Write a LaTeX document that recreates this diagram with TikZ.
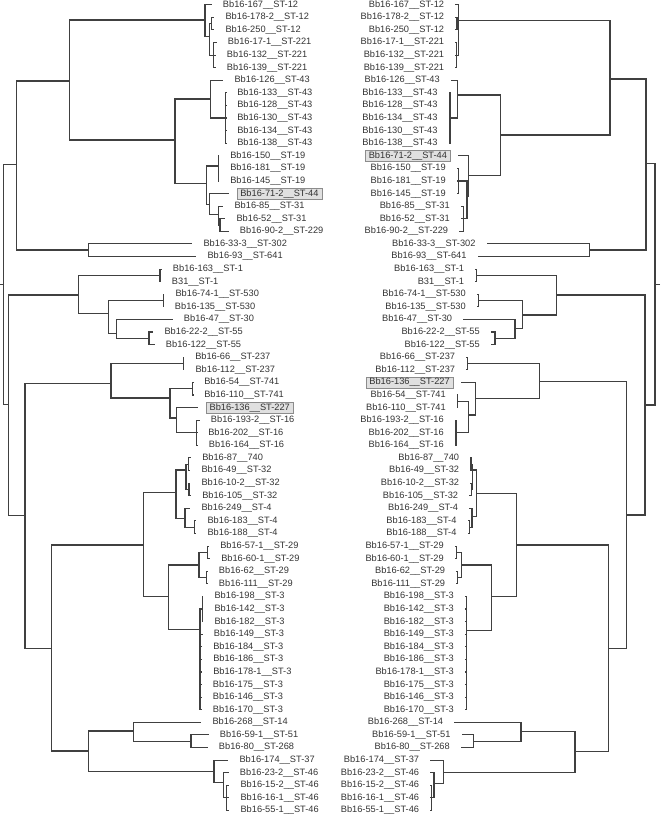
\documentclass[tikz,border=0pt]{standalone}
\usepackage{fontspec}
\setmainfont{Liberation Sans}
\usetikzlibrary{positioning}
\tikzset{
  branch/.style={draw=black!75, line width=1pt},
  lab/.style={font=\fontsize{7.9}{9}\selectfont, text=black!80, inner xsep=3pt, inner ysep=1pt},
  boxed/.style={lab, fill=black!12, draw=black!45, line width=0.5pt},
}
\begin{document}
\begin{tikzpicture}[x=0.03cm, y=-0.03cm]
\useasboundingbox (0,0) rectangle (660,817);

% left tree: junctions
\coordinate (j0) at (0,284.4);
\coordinate (jr) at (3.3,284.4);
\coordinate (ja) at (16.7,164.3);
\coordinate (jb) at (69.3,81);
\coordinate (jb1) at (205,20);
\coordinate (jb1a) at (209.3,36.7);
\coordinate (jb1p) at (211.7,23.6);
\coordinate (jb1t) at (213.3,55.1);
\coordinate (jb2) at (175,140);
\coordinate (j43) at (210.7,99);
\coordinate (j43b) at (225.7,118);
\coordinate (j19) at (206.7,183.3);
\coordinate (j19t) at (218.3,166);
\coordinate (j44) at (209.3,204.3);
\coordinate (j31) at (218.3,214.3);
\coordinate (j31b) at (220,225);
\coordinate (jc) at (88.3,250);
\coordinate (jd) at (8.3,404.5);
\coordinate (je) at (78.3,295);
\coordinate (jst1) at (160,275.4);
\coordinate (je2) at (108.3,313.3);
\coordinate (j530) at (163.3,300.6);
\coordinate (je3) at (116.7,333.3);
\coordinate (j55) at (149,338.3);
\coordinate (jf) at (25,515.8);
\coordinate (jf1) at (111,383.5);
\coordinate (j237) at (183.3,363.5);
\coordinate (jf1b) at (170,398);
\coordinate (j741) at (192.7,388.7);
\coordinate (jf1c) at (176.7,418);
\coordinate (j16) at (196.7,432.8);
\coordinate (jf2) at (51.7,648.3);
\coordinate (jg) at (143.3,545);
\coordinate (jg1) at (176,492.7);
\coordinate (j32) at (186,470);
\coordinate (j32a) at (188.3,464.2);
\coordinate (j32b) at (189,489.4);
\coordinate (j4) at (185,518.3);
\coordinate (j4p) at (194.3,527.2);
\coordinate (jg2) at (168.3,596.7);
\coordinate (j29) at (199,565);
\coordinate (j29a) at (207.7,552.4);
\coordinate (j29b) at (206.7,577.5);
\coordinate (j3) at (200,629.3);
\coordinate (j3a) at (202.3,609);
\coordinate (jh) at (88.3,751);
\coordinate (jh1) at (133.3,731);
\coordinate (j51) at (191,741.2);
\coordinate (jh2) at (214,771.7);
\coordinate (j46) at (223.3,782.3);
\coordinate (j46b) at (226.7,797.9);

% left tree: leaves
\coordinate (le1) at (211.7,4.7); \node[lab, right=6.4pt of le1] (l1) {Bb16-167\_\_ST-12};
\coordinate (le2) at (214.3,17.3); \node[lab, right=6.4pt of le2] (l2) {Bb16-178-2\_\_ST-12};
\coordinate (le3) at (214.3,29.9); \node[lab, right=6.4pt of le3] (l3) {Bb16-250\_\_ST-12};
\coordinate (le4) at (216.7,42.5); \node[lab, right=6.4pt of le4] (l4) {Bb16-17-1\_\_ST-221};
\coordinate (le5) at (215.7,55.1); \node[lab, right=6.4pt of le5] (l5) {Bb16-132\_\_ST-221};
\coordinate (le6) at (215.7,67.7); \node[lab, right=6.4pt of le6] (l6) {Bb16-139\_\_ST-221};
\coordinate (le7) at (223.3,80.2); \node[lab, right=6.4pt of le7] (l7) {Bb16-126\_\_ST-43};
\coordinate (le8) at (226,92.8); \node[lab, right=6.4pt of le8] (l8) {Bb16-133\_\_ST-43};
\coordinate (le9) at (226,105.4); \node[lab, right=6.4pt of le9] (l9) {Bb16-128\_\_ST-43};
\coordinate (le10) at (226,118); \node[lab, right=6.4pt of le10] (l10) {Bb16-130\_\_ST-43};
\coordinate (le11) at (226,130.6); \node[lab, right=6.4pt of le11] (l11) {Bb16-134\_\_ST-43};
\coordinate (le12) at (226,143.2); \node[lab, right=6.4pt of le12] (l12) {Bb16-138\_\_ST-43};
\coordinate (le13) at (219,155.8); \node[lab, right=6.4pt of le13] (l13) {Bb16-150\_\_ST-19};
\coordinate (le14) at (219,168.4); \node[lab, right=6.4pt of le14] (l14) {Bb16-181\_\_ST-19};
\coordinate (le15) at (219,181); \node[lab, right=6.4pt of le15] (l15) {Bb16-145\_\_ST-19};
\coordinate (le16) at (229,193.6); \node[boxed, right=6.4pt of le16] (l16) {Bb16-71-2\_\_ST-44};
\coordinate (le17) at (223.3,206.1); \node[lab, right=6.4pt of le17] (l17) {Bb16-85\_\_ST-31};
\coordinate (le18) at (225.3,218.7); \node[lab, right=6.4pt of le18] (l18) {Bb16-52\_\_ST-31};
\coordinate (le19) at (228.7,231.3); \node[lab, right=6.4pt of le19] (l19) {Bb16-90-2\_\_ST-229};
\coordinate (le20) at (192.3,243.9); \node[lab, right=6.4pt of le20] (l20) {Bb16-33-3\_\_ST-302};
\coordinate (le21) at (196.3,256.5); \node[lab, right=6.4pt of le21] (l21) {Bb16-93\_\_ST-641};
\coordinate (le22) at (161.7,269.1); \node[lab, right=6.4pt of le22] (l22) {Bb16-163\_\_ST-1};
\coordinate (le23) at (160.7,281.7); \node[lab, right=6.4pt of le23] (l23) {B31\_\_ST-1};
\coordinate (le24) at (164.3,294.3); \node[lab, right=6.4pt of le24] (l24) {Bb16-74-1\_\_ST-530};
\coordinate (le25) at (163.7,306.9); \node[lab, right=6.4pt of le25] (l25) {Bb16-135\_\_ST-530};
\coordinate (le26) at (172.7,319.5); \node[lab, right=6.4pt of le26] (l26) {Bb16-47\_\_ST-30};
\coordinate (le27) at (153.3,332); \node[lab, right=6.4pt of le27] (l27) {Bb16-22-2\_\_ST-55};
\coordinate (le28) at (154.7,344.6); \node[lab, right=6.4pt of le28] (l28) {Bb16-122\_\_ST-55};
\coordinate (le29) at (184,357.2); \node[lab, right=6.4pt of le29] (l29) {Bb16-66\_\_ST-237};
\coordinate (le30) at (184.3,369.8); \node[lab, right=6.4pt of le30] (l30) {Bb16-112\_\_ST-237};
\coordinate (le31) at (193,382.4); \node[lab, right=6.4pt of le31] (l31) {Bb16-54\_\_ST-741};
\coordinate (le32) at (193,395); \node[lab, right=6.4pt of le32] (l32) {Bb16-110\_\_ST-741};
\coordinate (le33) at (198.3,407.6); \node[boxed, right=6.4pt of le33] (l33) {Bb16-136\_\_ST-227};
\coordinate (le34) at (199.7,420.2); \node[lab, right=6.4pt of le34] (l34) {Bb16-193-2\_\_ST-16};
\coordinate (le35) at (197,432.8); \node[lab, right=6.4pt of le35] (l35) {Bb16-202\_\_ST-16};
\coordinate (le36) at (197.7,445.4); \node[lab, right=6.4pt of le36] (l36) {Bb16-164\_\_ST-16};
\coordinate (le37) at (191,457.9); \node[lab, right=6.4pt of le37] (l37) {Bb16-87\_\_740};
\coordinate (le38) at (190.3,470.5); \node[lab, right=6.4pt of le38] (l38) {Bb16-49\_\_ST-32};
\coordinate (le39) at (190.3,483.1); \node[lab, right=6.4pt of le39] (l39) {Bb16-10-2\_\_ST-32};
\coordinate (le40) at (191,495.7); \node[lab, right=6.4pt of le40] (l40) {Bb16-105\_\_ST-32};
\coordinate (le41) at (190.3,508.3); \node[lab, right=6.4pt of le41] (l41) {Bb16-249\_\_ST-4};
\coordinate (le42) at (196.3,520.9); \node[lab, right=6.4pt of le42] (l42) {Bb16-183\_\_ST-4};
\coordinate (le43) at (196.3,533.5); \node[lab, right=6.4pt of le43] (l43) {Bb16-188\_\_ST-4};
\coordinate (le44) at (209,546.1); \node[lab, right=6.4pt of le44] (l44) {Bb16-57-1\_\_ST-29};
\coordinate (le45) at (210,558.7); \node[lab, right=6.4pt of le45] (l45) {Bb16-60-1\_\_ST-29};
\coordinate (le46) at (207.7,571.3); \node[lab, right=6.4pt of le46] (l46) {Bb16-62\_\_ST-29};
\coordinate (le47) at (207.7,583.8); \node[lab, right=6.4pt of le47] (l47) {Bb16-111\_\_ST-29};
\coordinate (le48) at (203.3,596.4); \node[lab, right=6.4pt of le48] (l48) {Bb16-198\_\_ST-3};
\coordinate (le49) at (203.3,609); \node[lab, right=6.4pt of le49] (l49) {Bb16-142\_\_ST-3};
\coordinate (le50) at (203.3,621.6); \node[lab, right=6.4pt of le50] (l50) {Bb16-182\_\_ST-3};
\coordinate (le51) at (202.7,634.2); \node[lab, right=6.4pt of le51] (l51) {Bb16-149\_\_ST-3};
\coordinate (le52) at (202,646.8); \node[lab, right=6.4pt of le52] (l52) {Bb16-184\_\_ST-3};
\coordinate (le53) at (202,659.4); \node[lab, right=6.4pt of le53] (l53) {Bb16-186\_\_ST-3};
\coordinate (le54) at (202,672); \node[lab, right=6.4pt of le54] (l54) {Bb16-178-1\_\_ST-3};
\coordinate (le55) at (201.7,684.6); \node[lab, right=6.4pt of le55] (l55) {Bb16-175\_\_ST-3};
\coordinate (le56) at (201.7,697.2); \node[lab, right=6.4pt of le56] (l56) {Bb16-146\_\_ST-3};
\coordinate (le57) at (201.7,709.7); \node[lab, right=6.4pt of le57] (l57) {Bb16-170\_\_ST-3};
\coordinate (le58) at (201.3,722.3); \node[lab, right=6.4pt of le58] (l58) {Bb16-268\_\_ST-14};
\coordinate (le59) at (208.7,734.9); \node[lab, right=6.4pt of le59] (l59) {Bb16-59-1\_\_ST-51};
\coordinate (le60) at (207.7,747.5); \node[lab, right=6.4pt of le60] (l60) {Bb16-80\_\_ST-268};
\coordinate (le61) at (228.3,760.1); \node[lab, right=6.4pt of le61] (l61) {Bb16-174\_\_ST-37};
\coordinate (le62) at (228.7,772.7); \node[lab, right=6.4pt of le62] (l62) {Bb16-23-2\_\_ST-46};
\coordinate (le63) at (229.3,785.3); \node[lab, right=6.4pt of le63] (l63) {Bb16-15-2\_\_ST-46};
\coordinate (le64) at (229.3,797.9); \node[lab, right=6.4pt of le64] (l64) {Bb16-16-1\_\_ST-46};
\coordinate (le65) at (229.3,810.5); \node[lab, right=6.4pt of le65] (l65) {Bb16-55-1\_\_ST-46};

% left tree: branches
\draw[branch] (j0) -- (jr);
\draw[branch] (jr) |- (ja) (jr) |- (jd);
\draw[branch] (ja) |- (jb) (ja) |- (jc);
\draw[branch] (jb) |- (jb1) (jb) |- (jb2);
\draw[branch] (jb1) |- (le1) (jb1) |- (jb1a);
\draw[branch] (jb1a) |- (jb1p) (jb1a) |- (jb1t);
\draw[branch] (jb1p) |- (le2) (jb1p) |- (le3);
\draw[branch] (jb1t) |- (le4) (jb1t) |- (le5) (jb1t) |- (le6);
\draw[branch] (jb2) |- (j43) (jb2) |- (j19);
\draw[branch] (j43) |- (le7) (j43) |- (j43b);
\draw[branch] (j43b) |- (le8) (j43b) |- (le9) (j43b) |- (le10) (j43b) |- (le11) (j43b) |- (le12);
\draw[branch] (j19) |- (j19t) (j19) |- (j44);
\draw[branch] (j19t) |- (le13) (j19t) |- (le14) (j19t) |- (le15);
\draw[branch] (j44) |- (le16) (j44) |- (j31);
\draw[branch] (j31) |- (le17) (j31) |- (j31b);
\draw[branch] (j31b) |- (le18) (j31b) |- (le19);
\draw[branch] (jc) |- (le20) (jc) |- (le21);
\draw[branch] (jd) |- (je) (jd) |- (jf);
\draw[branch] (je) |- (jst1) (je) |- (je2);
\draw[branch] (jst1) |- (le22) (jst1) |- (le23);
\draw[branch] (je2) |- (j530) (je2) |- (je3);
\draw[branch] (j530) |- (le24) (j530) |- (le25);
\draw[branch] (je3) |- (le26) (je3) |- (j55);
\draw[branch] (j55) |- (le27) (j55) |- (le28);
\draw[branch] (jf) |- (jf1) (jf) |- (jf2);
\draw[branch] (jf1) |- (j237) (jf1) |- (jf1b);
\draw[branch] (j237) |- (le29) (j237) |- (le30);
\draw[branch] (jf1b) |- (j741) (jf1b) |- (jf1c);
\draw[branch] (j741) |- (le31) (j741) |- (le32);
\draw[branch] (jf1c) |- (le33) (jf1c) |- (j16);
\draw[branch] (j16) |- (le34) (j16) |- (le35) (j16) |- (le36);
\draw[branch] (jf2) |- (jg) (jf2) |- (jh);
\draw[branch] (jg) |- (jg1) (jg) |- (jg2);
\draw[branch] (jg1) |- (j32) (jg1) |- (j4);
\draw[branch] (j32) |- (j32a) (j32) |- (j32b);
\draw[branch] (j32a) |- (le37) (j32a) |- (le38);
\draw[branch] (j32b) |- (le39) (j32b) |- (le40);
\draw[branch] (j4) |- (le41) (j4) |- (j4p);
\draw[branch] (j4p) |- (le42) (j4p) |- (le43);
\draw[branch] (jg2) |- (j29) (jg2) |- (j3);
\draw[branch] (j29) |- (j29a) (j29) |- (j29b);
\draw[branch] (j29a) |- (le44) (j29a) |- (le45);
\draw[branch] (j29b) |- (le46) (j29b) |- (le47);
\draw[branch] (j3) |- (j3a) (j3) |- (le51) (j3) |- (le52) (j3) |- (le53) (j3) |- (le54) (j3) |- (le55) (j3) |- (le56) (j3) |- (le57);
\draw[branch] (j3a) |- (le48) (j3a) |- (le49) (j3a) |- (le50);
\draw[branch] (jh) |- (jh1) (jh) |- (jh2);
\draw[branch] (jh1) |- (le58) (jh1) |- (j51);
\draw[branch] (j51) |- (le59) (j51) |- (le60);
\draw[branch] (jh2) |- (le61) (jh2) |- (j46);
\draw[branch] (j46) |- (le62) (j46) |- (j46b);
\draw[branch] (j46b) |- (le63) (j46b) |- (le64) (j46b) |- (le65);

% right tree: junctions
\coordinate (k0) at (660,284.4);
\coordinate (kr) at (655,284.4);
\coordinate (ka) at (646,163.3);
\coordinate (kb) at (610,79);
\coordinate (kb1) at (458.3,20.7);
\coordinate (kb1p) at (457,23.6);
\coordinate (kb1t) at (456.3,55.1);
\coordinate (kb2) at (500.7,135);
\coordinate (k43) at (457.3,95);
\coordinate (k43b) at (450,118);
\coordinate (kx) at (468.3,175.7);
\coordinate (ky) at (467,196.7);
\coordinate (k19t) at (458.3,181);
\coordinate (k31) at (463.3,218.7);
\coordinate (kc) at (589.3,250);
\coordinate (kd) at (645,405);
\coordinate (ke) at (556.7,295);
\coordinate (kst1) at (476.7,275.4);
\coordinate (ke2) at (522.7,315);
\coordinate (k530) at (478.3,300.6);
\coordinate (ke3) at (515,328.3);
\coordinate (k55) at (495,338.3);
\coordinate (kf) at (626.7,515);
\coordinate (kf1) at (539.3,381.7);
\coordinate (k237) at (467.3,363.5);
\coordinate (kf1b) at (475.7,398.3);
\coordinate (kf1c) at (468.3,415);
\coordinate (k741) at (457.7,401.3);
\coordinate (k16) at (456,432.8);
\coordinate (kf2) at (608.3,648.3);
\coordinate (kg) at (516.7,545);
\coordinate (kg1) at (476.7,493.3);
\coordinate (k32) at (472.7,470);
\coordinate (k32a) at (471,464.2);
\coordinate (k32b) at (471.3,489.4);
\coordinate (k4) at (472,516.7);
\coordinate (k4p) at (469.7,527.2);
\coordinate (kg2) at (491.7,596.7);
\coordinate (k29) at (461.7,565);
\coordinate (k29a) at (456.7,552.4);
\coordinate (k29b) at (457.7,577.5);
\coordinate (k3) at (466.7,630.7);
\coordinate (kh) at (575,751.7);
\coordinate (kh1) at (521,731.7);
\coordinate (k51) at (473.3,741.2);
\coordinate (kh2) at (443.3,772.3);
\coordinate (k46) at (434,783.3);
\coordinate (k46b) at (431.7,797.9);

% right tree: leaves
\coordinate (re1) at (455.3,4.7); \node[lab, left=6.4pt of re1] (r1) {Bb16-167\_\_ST-12};
\coordinate (re2) at (455.3,17.3); \node[lab, left=6.4pt of re2] (r2) {Bb16-178-2\_\_ST-12};
\coordinate (re3) at (455.3,29.9); \node[lab, left=6.4pt of re3] (r3) {Bb16-250\_\_ST-12};
\coordinate (re4) at (455.3,42.5); \node[lab, left=6.4pt of re4] (r4) {Bb16-17-1\_\_ST-221};
\coordinate (re5) at (455.3,55.1); \node[lab, left=6.4pt of re5] (r5) {Bb16-132\_\_ST-221};
\coordinate (re6) at (455.3,67.7); \node[lab, left=6.4pt of re6] (r6) {Bb16-139\_\_ST-221};
\coordinate (re7) at (451,80.2); \node[lab, left=6.4pt of re7] (r7) {Bb16-126\_\_ST-43};
\coordinate (re8) at (448.7,92.8); \node[lab, left=6.4pt of re8] (r8) {Bb16-133\_\_ST-43};
\coordinate (re9) at (448.7,105.4); \node[lab, left=6.4pt of re9] (r9) {Bb16-128\_\_ST-43};
\coordinate (re10) at (448.7,118); \node[lab, left=6.4pt of re10] (r10) {Bb16-134\_\_ST-43};
\coordinate (re11) at (448.7,130.6); \node[lab, left=6.4pt of re11] (r11) {Bb16-130\_\_ST-43};
\coordinate (re12) at (448.7,143.2); \node[lab, left=6.4pt of re12] (r12) {Bb16-138\_\_ST-43};
\coordinate (re13) at (458.3,155.8); \node[boxed, left=6.4pt of re13] (r13) {Bb16-71-2\_\_ST-44};
\coordinate (re14) at (457,168.4); \node[lab, left=6.4pt of re14] (r14) {Bb16-150\_\_ST-19};
\coordinate (re15) at (457,181); \node[lab, left=6.4pt of re15] (r15) {Bb16-181\_\_ST-19};
\coordinate (re16) at (457,193.6); \node[lab, left=6.4pt of re16] (r16) {Bb16-145\_\_ST-19};
\coordinate (re17) at (461,206.1); \node[lab, left=6.4pt of re17] (r17) {Bb16-85\_\_ST-31};
\coordinate (re18) at (461,218.7); \node[lab, left=6.4pt of re18] (r18) {Bb16-52\_\_ST-31};
\coordinate (re19) at (459.3,231.3); \node[lab, left=6.4pt of re19] (r19) {Bb16-90-2\_\_ST-229};
\coordinate (re20) at (486.7,243.9); \node[lab, left=6.4pt of re20] (r20) {Bb16-33-3\_\_ST-302};
\coordinate (re21) at (477.7,256.5); \node[lab, left=6.4pt of re21] (r21) {Bb16-93\_\_ST-641};
\coordinate (re22) at (475.3,269.1); \node[lab, left=6.4pt of re22] (r22) {Bb16-163\_\_ST-1};
\coordinate (re23) at (475.3,281.7); \node[lab, left=6.4pt of re23] (r23) {B31\_\_ST-1};
\coordinate (re24) at (477,294.3); \node[lab, left=6.4pt of re24] (r24) {Bb16-74-1\_\_ST-530};
\coordinate (re25) at (477,306.9); \node[lab, left=6.4pt of re25] (r25) {Bb16-135\_\_ST-530};
\coordinate (re26) at (463.3,319.5); \node[lab, left=6.4pt of re26] (r26) {Bb16-47\_\_ST-30};
\coordinate (re27) at (491,332); \node[lab, left=6.4pt of re27] (r27) {Bb16-22-2\_\_ST-55};
\coordinate (re28) at (491,344.6); \node[lab, left=6.4pt of re28] (r28) {Bb16-122\_\_ST-55};
\coordinate (re29) at (466.3,357.2); \node[lab, left=6.4pt of re29] (r29) {Bb16-66\_\_ST-237};
\coordinate (re30) at (466.3,369.8); \node[lab, left=6.4pt of re30] (r30) {Bb16-112\_\_ST-237};
\coordinate (re31) at (461,382.4); \node[boxed, left=6.4pt of re31] (r31) {Bb16-136\_\_ST-227};
\coordinate (re32) at (457,395); \node[lab, left=6.4pt of re32] (r32) {Bb16-54\_\_ST-741};
\coordinate (re33) at (457,407.6); \node[lab, left=6.4pt of re33] (r33) {Bb16-110\_\_ST-741};
\coordinate (re34) at (455,420.2); \node[lab, left=6.4pt of re34] (r34) {Bb16-193-2\_\_ST-16};
\coordinate (re35) at (455,432.8); \node[lab, left=6.4pt of re35] (r35) {Bb16-202\_\_ST-16};
\coordinate (re36) at (455,445.4); \node[lab, left=6.4pt of re36] (r36) {Bb16-164\_\_ST-16};
\coordinate (re37) at (470.3,457.9); \node[lab, left=6.4pt of re37] (r37) {Bb16-87\_\_740};
\coordinate (re38) at (470.3,470.5); \node[lab, left=6.4pt of re38] (r38) {Bb16-49\_\_ST-32};
\coordinate (re39) at (470.3,483.1); \node[lab, left=6.4pt of re39] (r39) {Bb16-10-2\_\_ST-32};
\coordinate (re40) at (469.3,495.7); \node[lab, left=6.4pt of re40] (r40) {Bb16-105\_\_ST-32};
\coordinate (re41) at (469.3,508.3); \node[lab, left=6.4pt of re41] (r41) {Bb16-249\_\_ST-4};
\coordinate (re42) at (467.7,520.9); \node[lab, left=6.4pt of re42] (r42) {Bb16-183\_\_ST-4};
\coordinate (re43) at (467.7,533.5); \node[lab, left=6.4pt of re43] (r43) {Bb16-188\_\_ST-4};
\coordinate (re44) at (455,546.1); \node[lab, left=6.4pt of re44] (r44) {Bb16-57-1\_\_ST-29};
\coordinate (re45) at (455,558.7); \node[lab, left=6.4pt of re45] (r45) {Bb16-60-1\_\_ST-29};
\coordinate (re46) at (456.3,571.3); \node[lab, left=6.4pt of re46] (r46) {Bb16-62\_\_ST-29};
\coordinate (re47) at (456.3,583.8); \node[lab, left=6.4pt of re47] (r47) {Bb16-111\_\_ST-29};
\coordinate (re48) at (465,596.4); \node[lab, left=6.4pt of re48] (r48) {Bb16-198\_\_ST-3};
\coordinate (re49) at (465,609); \node[lab, left=6.4pt of re49] (r49) {Bb16-142\_\_ST-3};
\coordinate (re50) at (465,621.6); \node[lab, left=6.4pt of re50] (r50) {Bb16-182\_\_ST-3};
\coordinate (re51) at (465,634.2); \node[lab, left=6.4pt of re51] (r51) {Bb16-149\_\_ST-3};
\coordinate (re52) at (465,646.8); \node[lab, left=6.4pt of re52] (r52) {Bb16-184\_\_ST-3};
\coordinate (re53) at (465,659.4); \node[lab, left=6.4pt of re53] (r53) {Bb16-186\_\_ST-3};
\coordinate (re54) at (465,672); \node[lab, left=6.4pt of re54] (r54) {Bb16-178-1\_\_ST-3};
\coordinate (re55) at (465,684.6); \node[lab, left=6.4pt of re55] (r55) {Bb16-175\_\_ST-3};
\coordinate (re56) at (465,697.2); \node[lab, left=6.4pt of re56] (r56) {Bb16-146\_\_ST-3};
\coordinate (re57) at (465,709.7); \node[lab, left=6.4pt of re57] (r57) {Bb16-170\_\_ST-3};
\coordinate (re58) at (454.3,722.3); \node[lab, left=6.4pt of re58] (r58) {Bb16-268\_\_ST-14};
\coordinate (re59) at (461.7,734.9); \node[lab, left=6.4pt of re59] (r59) {Bb16-59-1\_\_ST-51};
\coordinate (re60) at (461,747.5); \node[lab, left=6.4pt of re60] (r60) {Bb16-80\_\_ST-268};
\coordinate (re61) at (430.3,760.1); \node[lab, left=6.4pt of re61] (r61) {Bb16-174\_\_ST-37};
\coordinate (re62) at (430.3,772.7); \node[lab, left=6.4pt of re62] (r62) {Bb16-23-2\_\_ST-46};
\coordinate (re63) at (430.3,785.3); \node[lab, left=6.4pt of re63] (r63) {Bb16-15-2\_\_ST-46};
\coordinate (re64) at (430.3,797.9); \node[lab, left=6.4pt of re64] (r64) {Bb16-16-1\_\_ST-46};
\coordinate (re65) at (430.3,810.5); \node[lab, left=6.4pt of re65] (r65) {Bb16-55-1\_\_ST-46};

% right tree: branches
\draw[branch] (k0) -- (kr);
\draw[branch] (kr) |- (ka) (kr) |- (kd);
\draw[branch] (ka) |- (kb) (ka) |- (kc);
\draw[branch] (kb) |- (kb1) (kb) |- (kb2);
\draw[branch] (kb1) |- (re1) (kb1) |- (kb1p) (kb1) |- (kb1t);
\draw[branch] (kb1p) |- (re2) (kb1p) |- (re3);
\draw[branch] (kb1t) |- (re4) (kb1t) |- (re5) (kb1t) |- (re6);
\draw[branch] (kb2) |- (k43) (kb2) |- (kx);
\draw[branch] (k43) |- (re7) (k43) |- (k43b);
\draw[branch] (k43b) |- (re8) (k43b) |- (re9) (k43b) |- (re10) (k43b) |- (re11) (k43b) |- (re12);
\draw[branch] (kx) |- (re13) (kx) |- (ky);
\draw[branch] (ky) |- (k19t) (ky) |- (k31);
\draw[branch] (k19t) |- (re14) (k19t) |- (re15) (k19t) |- (re16);
\draw[branch] (k31) |- (re17) (k31) |- (re18) (k31) |- (re19);
\draw[branch] (kc) |- (re20) (kc) |- (re21);
\draw[branch] (kd) |- (ke) (kd) |- (kf);
\draw[branch] (ke) |- (kst1) (ke) |- (ke2);
\draw[branch] (kst1) |- (re22) (kst1) |- (re23);
\draw[branch] (ke2) |- (k530) (ke2) |- (ke3);
\draw[branch] (k530) |- (re24) (k530) |- (re25);
\draw[branch] (ke3) |- (re26) (ke3) |- (k55);
\draw[branch] (k55) |- (re27) (k55) |- (re28);
\draw[branch] (kf) |- (kf1) (kf) |- (kf2);
\draw[branch] (kf1) |- (k237) (kf1) |- (kf1b);
\draw[branch] (k237) |- (re29) (k237) |- (re30);
\draw[branch] (kf1b) |- (re31) (kf1b) |- (kf1c);
\draw[branch] (kf1c) |- (k741) (kf1c) |- (k16);
\draw[branch] (k741) |- (re32) (k741) |- (re33);
\draw[branch] (k16) |- (re34) (k16) |- (re35) (k16) |- (re36);
\draw[branch] (kf2) |- (kg) (kf2) |- (kh);
\draw[branch] (kg) |- (kg1) (kg) |- (kg2);
\draw[branch] (kg1) |- (k32) (kg1) |- (k4);
\draw[branch] (k32) |- (k32a) (k32) |- (k32b);
\draw[branch] (k32a) |- (re37) (k32a) |- (re38);
\draw[branch] (k32b) |- (re39) (k32b) |- (re40);
\draw[branch] (k4) |- (re41) (k4) |- (k4p);
\draw[branch] (k4p) |- (re42) (k4p) |- (re43);
\draw[branch] (kg2) |- (k29) (kg2) |- (k3);
\draw[branch] (k29) |- (k29a) (k29) |- (k29b);
\draw[branch] (k29a) |- (re44) (k29a) |- (re45);
\draw[branch] (k29b) |- (re46) (k29b) |- (re47);
\draw[branch] (k3) |- (re48) (k3) |- (re49) (k3) |- (re50) (k3) |- (re51) (k3) |- (re52) (k3) |- (re53) (k3) |- (re54) (k3) |- (re55) (k3) |- (re56) (k3) |- (re57);
\draw[branch] (kh) |- (kh1) (kh) |- (kh2);
\draw[branch] (kh1) |- (re58) (kh1) |- (k51);
\draw[branch] (k51) |- (re59) (k51) |- (re60);
\draw[branch] (kh2) |- (re61) (kh2) |- (k46);
\draw[branch] (k46) |- (re62) (k46) |- (k46b);
\draw[branch] (k46b) |- (re63) (k46b) |- (re64) (k46b) |- (re65);
\end{tikzpicture}
\end{document}
